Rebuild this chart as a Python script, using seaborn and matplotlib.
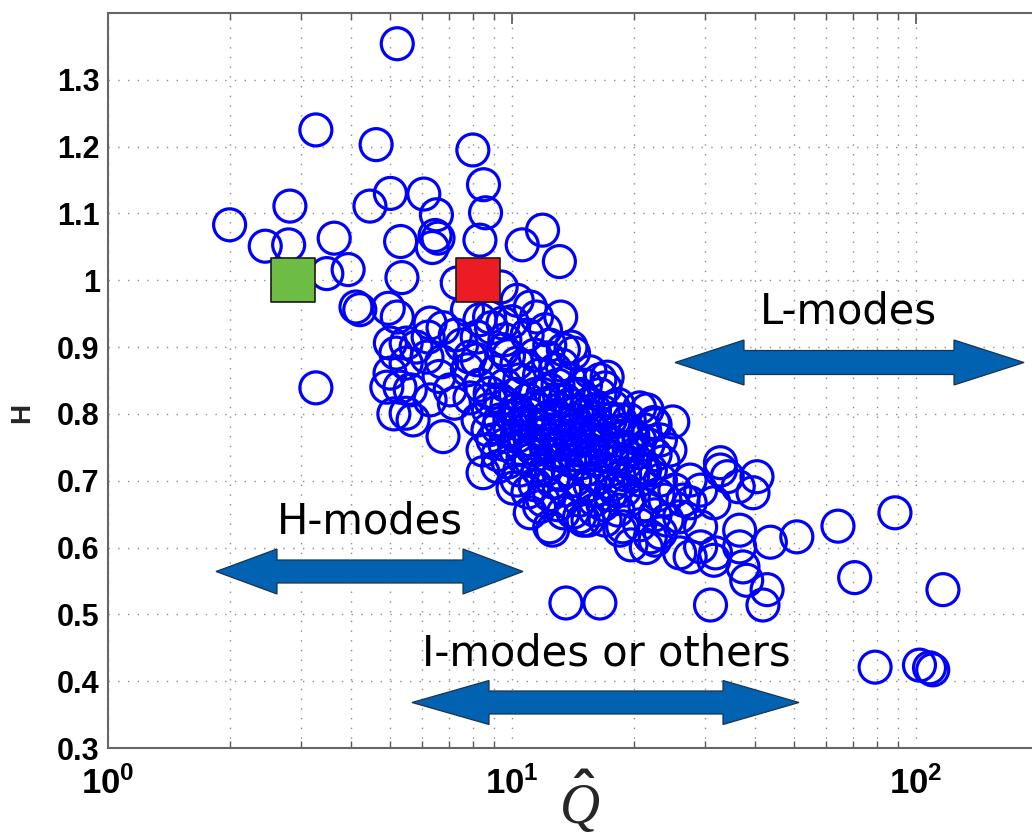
import matplotlib
matplotlib.use("Agg")
import matplotlib.pyplot as plt
import numpy as np
import pandas as pd
import seaborn as sns
from matplotlib.patches import Polygon
from matplotlib.ticker import FixedLocator, FixedFormatter, LogLocator, NullFormatter

# ---------------------------------------------------------------------------
# Data: normalised heating Q-hat versus confinement factor H
# ---------------------------------------------------------------------------
q_hat = [
    # sparse upper-left group
    5.2, 3.27, 4.61, 8.0, 8.5, 8.6, 2.0, 2.82, 2.45, 2.8, 3.63, 3.48, 3.93,
    4.45, 5.0, 6.05, 6.5, 5.3, 6.45, 6.56, 6.35, 8.33, 5.34, 4.11, 4.2, 4.94,
    5.2, 6.27, 6.75, 7.32, 7.76, 8.2, 5.0, 5.47, 6.2, 3.27,
    # upper-middle group
    10.6, 11.9, 13.1, 9.4, 11.1, 13.2, 14.0, 10.3, 11.5, 9.5, 8.8,
    10.0, 10.9, 12.1, 12.4, 11.4,
    # left-middle group
    5.16, 4.99, 5.47, 5.28, 5.6, 5.47, 5.69, 5.79, 6.16, 7.03, 7.2, 6.75,
    6.27, 7.76, 7.87, 8.48, 8.83, 9.5, 10.29, 13.4, 14.2, 16.5, 17.8, 18.5,
    11.1, 12.4, 11.7, 13.4, 15.0, 18.8, 9.22, 10.29,
    4.9, 5.1, 7.24, 7.5, 8.33, 8.9, 9.6, 9.8, 9.1, 8.33, 7.87, 6.7, 6.6,
    8.2, 9.34, 10.2, 8.74,
    # dense core
    9.34, 9.89, 10.46, 10.76, 11.4, 11.7, 12.1, 12.4, 12.8, 13.1, 13.5, 13.9,
    14.3, 14.7, 15.2, 15.6, 16.0, 16.5, 17.0, 17.5, 18.0, 18.5, 19.0, 19.5,
    20.1, 20.7, 10.2, 11.1, 12.1, 13.1, 14.3, 15.6, 10.46, 11.4, 12.4, 13.5,
    14.7, 16.0, 17.5, 19.0, 11.7, 12.8, 13.9, 15.2, 16.5, 9.61, 10.46, 11.4,
    12.4, 13.5, 14.7, 16.0, 17.5, 19.0, 20.7, 22.0, 22.6, 23.3, 21.3, 19.5,
    9.72, 10.29, 10.89, 11.21, 11.9, 12.21, 12.56, 12.93, 13.3, 13.68, 14.08,
    14.49, 14.9, 15.33, 15.78, 16.23, 16.7, 17.19, 17.68, 18.2, 18.72, 19.26,
    19.82, 20.39, 20.98, 17.68, 16.32, 15.0, 13.76, 12.63, 11.6, 10.65, 9.78,
    8.97, 9.23, 10.06, 10.95, 11.93, 13.0, 14.16, 15.42, 16.8, 18.3, 19.9,
    21.7, 23.65, 22.98, 19.9, 18.3, 16.8, 15.42, 14.16, 13.0, 11.93, 10.95,
    10.06, 9.23, 8.72, 8.48, 8.24, 8.83, 9.61, 10.76, 12.28, 13.3, 15.6, 17.0,
    20.7, 22.6, 24.6,
    10.2, 11.1, 12.1, 13.1, 14.3, 15.6, 11.1, 12.1, 13.1, 14.3, 15.6, 10.46,
    11.4, 12.4, 13.5, 14.7, 16.0, 12.8, 13.9, 15.2,
    # second blob
    18.0, 19.5, 21.3, 22.6, 23.9, 25.3, 23.3, 21.3, 27.6, 29.3, 22.6, 20.7,
    17.0, 16.0, 19.7, 21.5,
    # lower-right tail
    17.2, 21.6, 25.0, 22.4, 32.8, 32.8, 34.1, 40.4, 39.5, 36.3, 31.6, 27.6,
    26.0, 29.3, 36.6, 43.6, 50.7, 64.1, 36.6, 31.9, 27.6, 37.3, 38.1, 42.8,
    41.8, 31.0, 18.5, 23.3, 26.0, 24.2, 26.5, 29.3, 31.6, 70.5, 88.7, 116.6,
    79.2, 102.0, 108.0, 110.0, 13.6, 16.5,
    12.6, 14.7, 22.0,
]

h_factor = [
    # sparse upper-left group
    1.354, 1.225, 1.203, 1.195, 1.143, 1.101, 1.083, 1.111, 1.051, 1.053,
    1.063, 1.010, 1.016, 1.111, 1.130, 1.129, 1.098, 1.058, 1.067, 1.063,
    1.049, 1.060, 1.004, 0.960, 0.956, 0.958, 0.945, 0.936, 0.929, 0.996,
    0.956, 0.915, 0.906, 0.906, 0.915, 0.839,
    # upper-middle group
    1.053, 1.075, 1.028, 0.990, 0.960, 0.945, 0.900, 0.970, 0.945, 0.936,
    0.945, 0.938, 0.918, 0.926, 0.903, 0.888,
    # left-middle group
    0.891, 0.861, 0.876, 0.840, 0.836, 0.801, 0.791, 0.900, 0.885, 0.836,
    0.816, 0.766, 0.821, 0.866, 0.885, 0.712, 0.831, 0.896, 0.876, 0.896,
    0.891, 0.851, 0.810, 0.791, 0.652, 0.631, 0.661, 0.652, 0.641, 0.631,
    0.721, 0.701,
    0.840, 0.800, 0.918, 0.903, 0.941, 0.929, 0.911, 0.887, 0.863, 0.843,
    0.824, 0.878, 0.856, 0.881, 0.821, 0.829, 0.806,
    # dense core
    0.791, 0.776, 0.799, 0.761, 0.784, 0.806, 0.754, 0.776, 0.739, 0.791,
    0.761, 0.731, 0.776, 0.746, 0.716, 0.761, 0.731, 0.776, 0.739, 0.716,
    0.754, 0.731, 0.709, 0.746, 0.724, 0.761, 0.746, 0.731, 0.716, 0.709,
    0.701, 0.694, 0.851, 0.829, 0.836, 0.821, 0.829, 0.806, 0.791, 0.776,
    0.858, 0.866, 0.851, 0.843, 0.829, 0.754, 0.716, 0.694, 0.679, 0.686,
    0.671, 0.671, 0.679, 0.686, 0.701, 0.716, 0.739, 0.761, 0.776, 0.791,
    0.814, 0.766, 0.788, 0.749, 0.772, 0.794, 0.728, 0.766, 0.743, 0.784,
    0.754, 0.803, 0.727, 0.772, 0.739, 0.788, 0.754, 0.761, 0.734, 0.773,
    0.749, 0.728, 0.766, 0.742, 0.716, 0.694, 0.704, 0.689, 0.716, 0.698,
    0.716, 0.734, 0.728, 0.761, 0.779, 0.794, 0.821, 0.829, 0.843, 0.829,
    0.814, 0.803, 0.814, 0.769, 0.754, 0.728, 0.679, 0.709, 0.656, 0.664,
    0.641, 0.653, 0.664, 0.671, 0.683, 0.689, 0.739, 0.776, 0.746, 0.791,
    0.821, 0.843, 0.869, 0.884, 0.873, 0.863, 0.839, 0.809, 0.784, 0.746,
    0.806, 0.799, 0.814, 0.806, 0.791, 0.784, 0.761, 0.784, 0.754, 0.739,
    0.746, 0.784, 0.746, 0.754, 0.776, 0.761, 0.761, 0.821, 0.814, 0.799,
    # second blob
    0.686, 0.671, 0.664, 0.649, 0.671, 0.686, 0.701, 0.716, 0.701, 0.686,
    0.611, 0.634, 0.641, 0.656, 0.604, 0.600,
    # lower-right tail
    0.855, 0.806, 0.788, 0.787, 0.727, 0.716, 0.706, 0.706, 0.682, 0.691,
    0.667, 0.667, 0.646, 0.631, 0.626, 0.608, 0.616, 0.632, 0.601, 0.592,
    0.586, 0.571, 0.551, 0.537, 0.514, 0.514, 0.626, 0.622, 0.592, 0.641,
    0.671, 0.601, 0.581, 0.555, 0.652, 0.537, 0.421, 0.424, 0.420, 0.417,
    0.517, 0.517,
    0.626, 0.646, 0.616,
]

# Two highlighted reference discharges
ref_q = [2.87, 8.24]
ref_h = [1.0, 1.0]
ref_case = ["green", "red"]
ref_palette = {"green": "#6DBD45", "red": "#EC1C24"}

x_ticks = [1, 10, 100]
x_tick_labels = [r"$\mathbf{10^{0}}$", r"$\mathbf{10^{1}}$", r"$\mathbf{10^{2}}$"]
y_ticks = [0.3, 0.4, 0.5, 0.6, 0.7, 0.8, 0.9, 1.0, 1.1, 1.2, 1.3]
y_tick_labels = ["0.3", "0.4", "0.5", "0.6", "0.7", "0.8", "0.9", "1", "1.1", "1.2", "1.3"]

regime_labels = ["H-modes", "L-modes", "I-modes or others"]

# ---------------------------------------------------------------------------
sns.set_theme(style="white")
plt.rcParams.update({
    "font.family": ["Liberation Sans", "DejaVu Sans"],
    "mathtext.fontset": "custom",
    "mathtext.rm": "Liberation Sans:bold",
    "mathtext.bf": "Liberation Sans:bold",
    "mathtext.it": "Liberation Serif:italic",
})

W, H = 1032, 839
fig = plt.figure(figsize=(W / 100, H / 100), dpi=100)
fig.patch.set_facecolor("white")
ax = fig.add_axes([108 / W, (H - 748) / H, (W - 108) / W, (748 - 13) / H])

points = pd.DataFrame({"Q": q_hat, "H": h_factor})
sns.scatterplot(data=points, x="Q", y="H", ax=ax, marker="o", s=530,
                facecolor="none", edgecolor="#0000FF", linewidth=2.3,
                zorder=3, legend=False)

refs = pd.DataFrame({"Q": ref_q, "H": ref_h, "case": ref_case})
sns.scatterplot(data=refs, x="Q", y="H", hue="case", palette=ref_palette,
                ax=ax, marker="s", s=1000, edgecolor="#1a1a1a", linewidth=1.2,
                zorder=4, legend=False)

ax.set_xscale("log")
ax.set_xlim(1, 10 ** (924 / 404))
ax.set_ylim(0.3, 1.4)

ax.xaxis.set_major_locator(FixedLocator(x_ticks))
ax.xaxis.set_major_formatter(FixedFormatter(x_tick_labels))
ax.xaxis.set_minor_locator(LogLocator(base=10, subs=np.arange(2, 10)))
ax.xaxis.set_minor_formatter(NullFormatter())
ax.yaxis.set_major_locator(FixedLocator(y_ticks))
ax.yaxis.set_major_formatter(FixedFormatter(y_tick_labels))

ax.tick_params(axis="both", which="major", direction="in", length=8, width=1.2,
               color="#555555", labelcolor="black", top=True, right=False)
ax.tick_params(axis="y", which="major", labelsize=22, pad=6)
ax.tick_params(axis="x", which="major", labelsize=25, pad=13)
ax.tick_params(axis="x", which="minor", direction="in", length=5, width=1.0,
               color="#555555", top=True, bottom=True)
for lab in ax.get_yticklabels():
    lab.set_fontweight("bold")

grid_kw = dict(linestyle=(0, (1, 6)), color="#8c8c8c", linewidth=1.0)
ax.grid(True, which="major", axis="both", **grid_kw)
ax.grid(True, which="minor", axis="x", **grid_kw)
ax.set_axisbelow(True)

for side in ("left", "bottom", "top"):
    ax.spines[side].set_color("#666666")
    ax.spines[side].set_linewidth(1.5)
ax.spines["right"].set_visible(False)

ax.set_xlabel("")
ax.set_ylabel("")
fig.text(580 / W, 3 / H, r"$\hat{Q}$", fontsize=40, ha="center", va="bottom")
fig.text(22 / W, 1 - 413 / H, "H", rotation=90, fontsize=20, fontweight="bold",
         ha="center", va="center")


# Double-headed block arrows marking the confinement regimes (pixel layout)
def block_arrow(x0, x1, yc, shaft, head_w, head_l0, head_l1):
    pts_px = [
        (x0, yc), (x0 + head_l0, yc - head_w / 2), (x0 + head_l0, yc - shaft / 2),
        (x1 - head_l1, yc - shaft / 2), (x1 - head_l1, yc - head_w / 2), (x1, yc),
        (x1 - head_l1, yc + head_w / 2), (x1 - head_l1, yc + shaft / 2),
        (x0 + head_l0, yc + shaft / 2), (x0 + head_l0, yc + head_w / 2),
    ]
    pts = [(px / W, 1 - py / H) for px, py in pts_px]
    poly = Polygon(pts, closed=True, transform=fig.transFigure,
                   facecolor="#0062B0", edgecolor="#1c3350", linewidth=0.9,
                   zorder=5)
    fig.patches.append(poly)


block_arrow(216, 523, 571.5, 23, 45, 61, 60)
block_arrow(675, 1024, 362.5, 24, 45, 69, 70)
block_arrow(412, 799, 702.5, 23, 44, 77, 76)

text_kw = dict(fontsize=30, family="DejaVu Sans", color="black",
               ha="center", va="baseline")
fig.text(370 / W, 1 - 533 / H, regime_labels[0], **text_kw)
fig.text(848 / W, 1 - 323 / H, regime_labels[1], **text_kw)
fig.text(606 / W, 1 - 665 / H, regime_labels[2], **text_kw)

fig.savefig("out.png", dpi=100, facecolor="white")
